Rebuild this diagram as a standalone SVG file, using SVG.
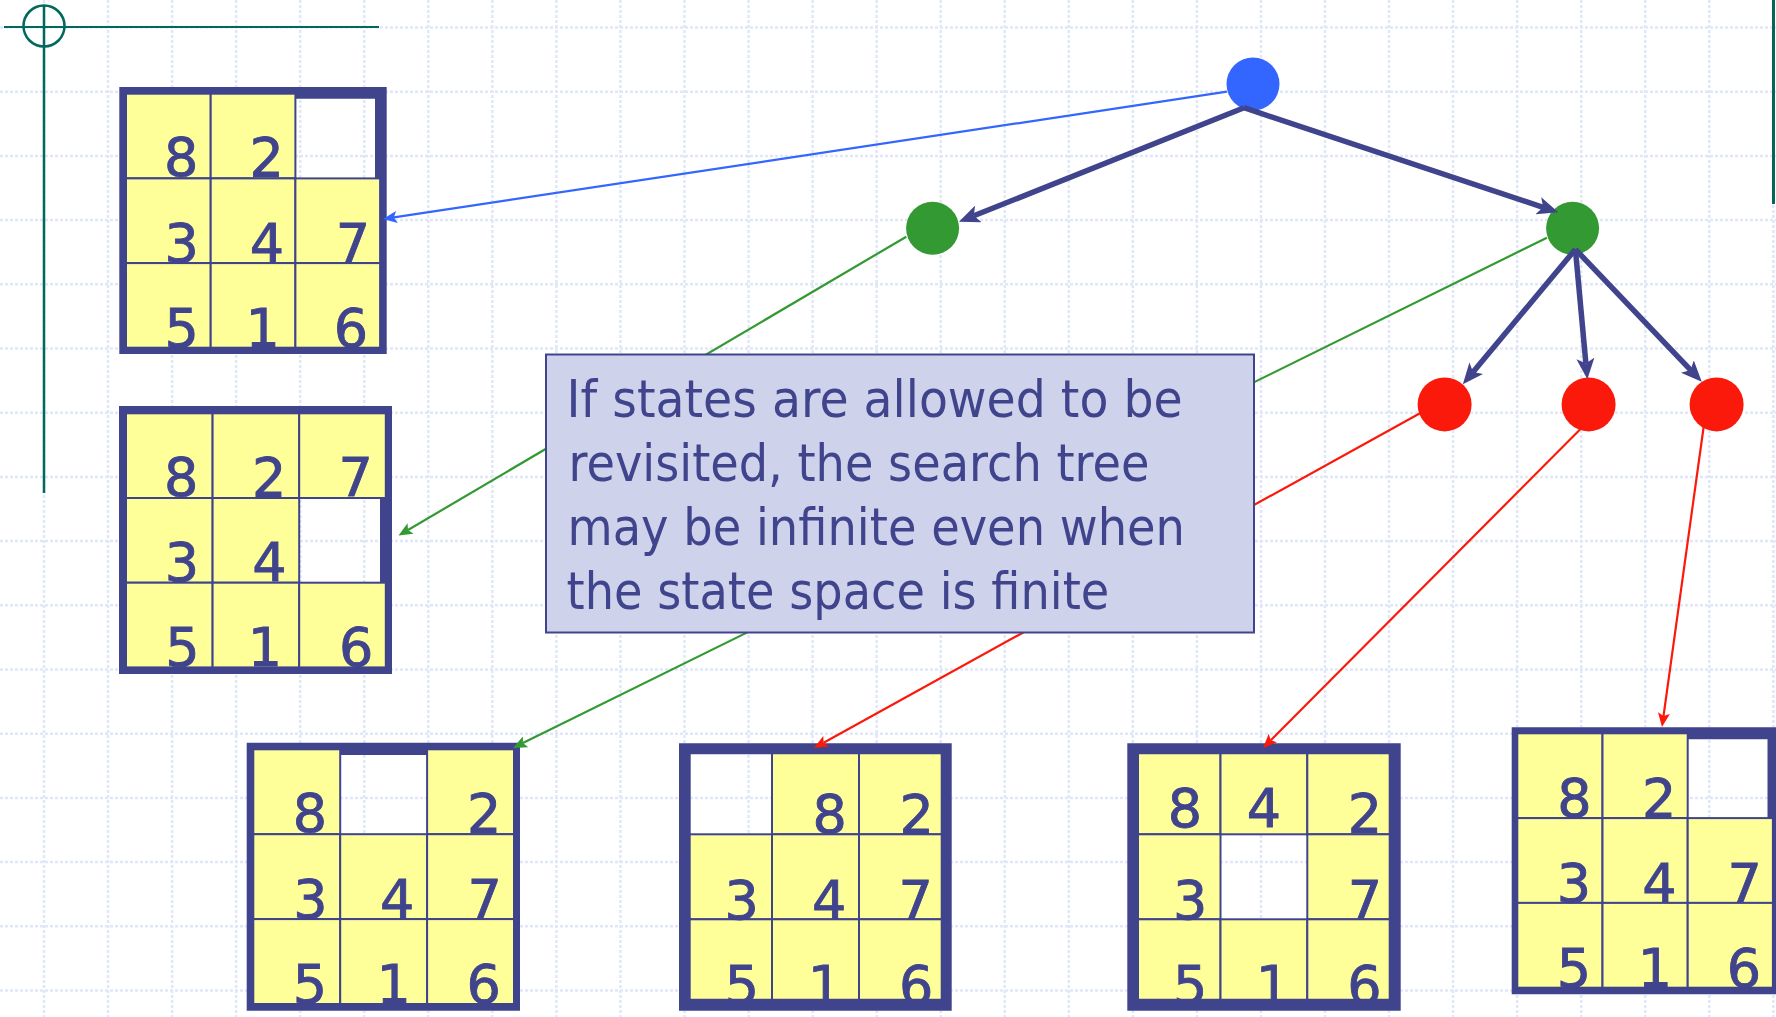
<svg xmlns="http://www.w3.org/2000/svg" width="1776" height="1017" viewBox="0 0 1776 1017">
<style>
.grid{fill:none;stroke:#e0e7f9;stroke-width:2.5;stroke-dasharray:3 2}
.deco{fill:none;stroke:#00695c}
.frame{fill:#40448c;fill-rule:evenodd}
.tile{fill:#ffff99;stroke:#40448c;stroke-width:2}
.dg{font-family:"DejaVu Sans",sans-serif;font-size:54px;fill:#40448c;stroke:#40448c;stroke-width:0.9;text-anchor:middle}
.thick{fill:none;stroke:#40448c;stroke-width:5.5}
.thin{fill:none;stroke-width:2.2}
.box{fill:#cfd2eb;stroke:#40448c;stroke-width:2}
.bt{font-family:"DejaVu Sans",sans-serif;font-size:51px;fill:#40448c}
</style>
<defs>
<marker id="hN" markerUnits="userSpaceOnUse" markerWidth="22" markerHeight="18" viewBox="0 0 22 18" refX="5" refY="9" orient="auto"><path d="M0,0 L21,9 L0,18 L5,9 Z" fill="#40448c"/></marker>
<marker id="hB" markerUnits="userSpaceOnUse" markerWidth="15" markerHeight="12" viewBox="0 0 15 12" refX="3" refY="6" orient="auto"><path d="M0,0 L14,6 L0,12 L3,6 Z" fill="#3366ff"/></marker>
<marker id="hG" markerUnits="userSpaceOnUse" markerWidth="15" markerHeight="12" viewBox="0 0 15 12" refX="3" refY="6" orient="auto"><path d="M0,0 L14,6 L0,12 L3,6 Z" fill="#339933"/></marker>
<marker id="hR" markerUnits="userSpaceOnUse" markerWidth="15" markerHeight="12" viewBox="0 0 15 12" refX="3" refY="6" orient="auto"><path d="M0,0 L14,6 L0,12 L3,6 Z" fill="#fa190a"/></marker>
</defs>
<rect width="1776" height="1017" fill="#ffffff"/>
<g id="grid">
<path class="grid" d="M44,0V1017M108.05,0V1017M172.1,0V1017M236.15,0V1017M300.2,0V1017M364.25,0V1017M428.3,0V1017M492.35,0V1017M556.4,0V1017M620.45,0V1017M684.5,0V1017M748.55,0V1017M812.6,0V1017M876.65,0V1017M940.7,0V1017M1004.75,0V1017M1068.8,0V1017M1132.85,0V1017M1196.9,0V1017M1260.95,0V1017M1325,0V1017M1389.05,0V1017M1453.1,0V1017M1517.15,0V1017M1581.2,0V1017M1645.25,0V1017M1709.3,0V1017M1773.35,0V1017"/>
<path class="grid" d="M0,27.5H1776M0,91.7H1776M0,155.9H1776M0,220.1H1776M0,284.3H1776M0,348.5H1776M0,412.7H1776M0,476.9H1776M0,541.1H1776M0,605.3H1776M0,669.5H1776M0,733.7H1776M0,797.9H1776M0,862.1H1776M0,926.3H1776M0,990.5H1776"/>
</g>
<g id="decoration">
<line class="deco" x1="4" y1="27" x2="379" y2="27" stroke-width="2"/>
<line class="deco" x1="44" y1="6" x2="44" y2="493" stroke-width="2.5"/>
<circle class="deco" cx="44" cy="26" r="20.5" stroke-width="2.5"/>
<line class="deco" x1="1773.5" y1="0" x2="1773.5" y2="204" stroke-width="3"/>
</g>

<g id="puzzle1">
<path class="frame" d="M119.3,87H386.7V354H119.3Z M126,98.7V347.7H375V98.7Z"/>
<rect class="tile" x="126" y="93.7" width="84.7" height="84.6"/>
<rect class="tile" x="210.7" y="93.7" width="84.7" height="84.6"/>
<rect class="tile" x="126" y="178.4" width="84.7" height="84.6"/>
<rect class="tile" x="210.7" y="178.4" width="84.7" height="84.6"/>
<rect class="tile" x="295.4" y="178.4" width="84.7" height="84.6"/>
<rect class="tile" x="126" y="263.1" width="84.7" height="84.6"/>
<rect class="tile" x="210.7" y="263.1" width="84.7" height="84.6"/>
<rect class="tile" x="295.4" y="263.1" width="84.7" height="84.6"/>
<text class="dg" x="181.3" y="176">8</text><text class="dg" x="266.8" y="176">2</text>
<text class="dg" x="181.7" y="262">3</text><text class="dg" x="267" y="262">4</text><text class="dg" x="353" y="262">7</text>
<text class="dg" x="181.7" y="347">5</text><text class="dg" x="262.8" y="347">1</text><text class="dg" x="351" y="347">6</text>
</g>

<g id="puzzle2">
<path class="frame" d="M119,406H392V674H119Z M126,418V667.4H380V418Z"/>
<rect class="tile" x="126" y="413.3" width="86.6" height="84.7"/>
<rect class="tile" x="212.6" y="413.3" width="86.6" height="84.7"/>
<rect class="tile" x="299.2" y="413.3" width="86.6" height="84.7"/>
<rect class="tile" x="126" y="498" width="86.6" height="84.7"/>
<rect class="tile" x="212.6" y="498" width="86.6" height="84.7"/>
<rect class="tile" x="126" y="582.7" width="86.6" height="84.7"/>
<rect class="tile" x="212.6" y="582.7" width="86.6" height="84.7"/>
<rect class="tile" x="299.2" y="582.7" width="86.6" height="84.7"/>
<text class="dg" x="181.3" y="496">8</text><text class="dg" x="269.2" y="496">2</text><text class="dg" x="355.7" y="496">7</text>
<text class="dg" x="182" y="581">3</text><text class="dg" x="269.5" y="581">4</text>
<text class="dg" x="182.5" y="666">5</text><text class="dg" x="265" y="666">1</text><text class="dg" x="356.3" y="666">6</text>
</g>

<g id="puzzle3">
<path class="frame" d="M246.7,742.7H520V1010.7H246.7Z M253.3,755V1004H508.5V755Z"/>
<rect class="tile" x="253.3" y="749.3" width="86.9" height="84.9"/>
<rect class="tile" x="427.1" y="749.3" width="86.9" height="84.9"/>
<rect class="tile" x="253.3" y="834.2" width="86.9" height="84.9"/>
<rect class="tile" x="340.2" y="834.2" width="86.9" height="84.9"/>
<rect class="tile" x="427.1" y="834.2" width="86.9" height="84.9"/>
<rect class="tile" x="253.3" y="919.1" width="86.9" height="84.9"/>
<rect class="tile" x="340.2" y="919.1" width="86.9" height="84.9"/>
<rect class="tile" x="427.1" y="919.1" width="86.9" height="84.9"/>
<text class="dg" x="310" y="832">8</text><text class="dg" x="484.2" y="832">2</text>
<text class="dg" x="310.5" y="918">3</text><text class="dg" x="397.2" y="918">4</text><text class="dg" x="484.7" y="918">7</text>
<text class="dg" x="310" y="1003">5</text><text class="dg" x="393.8" y="1003">1</text><text class="dg" x="483.7" y="1003">6</text>
</g>

<g id="puzzle4">
<rect class="tile" x="772" y="749.3" width="87" height="85"/>
<rect class="tile" x="859" y="749.3" width="87" height="85"/>
<rect class="tile" x="685" y="834.3" width="87" height="85"/>
<rect class="tile" x="772" y="834.3" width="87" height="85"/>
<rect class="tile" x="859" y="834.3" width="87" height="85"/>
<rect class="tile" x="685" y="919.3" width="87" height="85"/>
<rect class="tile" x="772" y="919.3" width="87" height="85"/>
<rect class="tile" x="859" y="919.3" width="87" height="85"/>
<text class="dg" x="829.7" y="833">8</text><text class="dg" x="916.7" y="833">2</text>
<text class="dg" x="741.7" y="919">3</text><text class="dg" x="829.2" y="919">4</text><text class="dg" x="915.8" y="919">7</text>
<text class="dg" x="742" y="1004">5</text><text class="dg" x="825" y="1004">1</text><text class="dg" x="916.3" y="1004">6</text>
<path class="frame" d="M679,743.3H951.7V1010.7H679Z M690.7,754.3V998.7H940.7V754.3Z"/>
</g>

<g id="puzzle5">
<rect class="tile" x="1133.7" y="749.3" width="86.8" height="85"/>
<rect class="tile" x="1220.5" y="749.3" width="86.8" height="85"/>
<rect class="tile" x="1307.3" y="749.3" width="86.8" height="85"/>
<rect class="tile" x="1133.7" y="834.3" width="86.8" height="85"/>
<rect class="tile" x="1307.3" y="834.3" width="86.8" height="85"/>
<rect class="tile" x="1133.7" y="919.3" width="86.8" height="85"/>
<rect class="tile" x="1220.5" y="919.3" width="86.8" height="85"/>
<rect class="tile" x="1307.3" y="919.3" width="86.8" height="85"/>
<text class="dg" x="1185" y="827">8</text><text class="dg" x="1264" y="827">4</text><text class="dg" x="1365" y="832">2</text>
<text class="dg" x="1190.3" y="919">3</text><text class="dg" x="1365" y="919">7</text>
<text class="dg" x="1190.3" y="1004">5</text><text class="dg" x="1273" y="1004">1</text><text class="dg" x="1364.5" y="1004">6</text>
<path class="frame" d="M1127.3,743.3H1400.7V1010.7H1127.3Z M1139,754.3V998.7H1388.7V754.3Z"/>
</g>

<g id="puzzle6">
<path class="frame" d="M1511.7,727.3H1780V994.3H1511.7Z M1517.3,739.3V987.7H1767.5V739.3Z"/>
<rect class="tile" x="1517.3" y="733.3" width="85.2" height="84.8"/>
<rect class="tile" x="1602.5" y="733.3" width="85.2" height="84.8"/>
<rect class="tile" x="1517.3" y="818.1" width="85.2" height="84.8"/>
<rect class="tile" x="1602.5" y="818.1" width="85.2" height="84.8"/>
<rect class="tile" x="1687.7" y="818.1" width="85.2" height="84.8"/>
<rect class="tile" x="1517.3" y="902.9" width="85.2" height="84.8"/>
<rect class="tile" x="1602.5" y="902.9" width="85.2" height="84.8"/>
<rect class="tile" x="1687.7" y="902.9" width="85.2" height="84.8"/>
<text class="dg" x="1574.5" y="816.5">8</text><text class="dg" x="1659.2" y="816.5">2</text>
<text class="dg" x="1574" y="902">3</text><text class="dg" x="1659.5" y="902">4</text><text class="dg" x="1744.7" y="902">7</text>
<text class="dg" x="1574" y="986.5">5</text><text class="dg" x="1655" y="986.5">1</text><text class="dg" x="1744" y="986.5">6</text>
</g>

<g id="root"><circle cx="1253" cy="84" r="26.5" fill="#3366ff"/></g>
<g id="greenLeft"><circle cx="932.6" cy="228.3" r="26.5" fill="#339933"/></g>
<g id="greenRight"><circle cx="1572.6" cy="228.3" r="26.5" fill="#339933"/></g>
<g id="red1"><circle cx="1444.6" cy="404.4" r="27" fill="#fa190a"/></g>
<g id="red2"><circle cx="1588.6" cy="404.4" r="27" fill="#fa190a"/></g>
<g id="red3"><circle cx="1716.6" cy="404.4" r="27" fill="#fa190a"/></g>

<g id="connectors">
<line class="thick" x1="1244" y1="107.7" x2="973.8" y2="215.8" marker-end="url(#hN)"/>
<line class="thick" x1="1244" y1="107.7" x2="1543.1" y2="207.3" marker-end="url(#hN)"/>
<line class="thick" x1="1575.4" y1="249.3" x2="1473.1" y2="372" marker-end="url(#hN)"/>
<line class="thick" x1="1575.4" y1="249.3" x2="1585.9" y2="363.4" marker-end="url(#hN)"/>
<line class="thick" x1="1575.4" y1="249.3" x2="1690.7" y2="370.1" marker-end="url(#hN)"/>
<line class="thin" stroke="#3366ff" x1="1226.9" y1="91.7" x2="393.9" y2="217.4" marker-end="url(#hB)"/>
<line class="thin" stroke="#339933" x1="906.3" y1="236.7" x2="408" y2="530" marker-end="url(#hG)"/>
<line class="thin" stroke="#339933" x1="1546.9" y1="237.7" x2="522.9" y2="743.1" marker-end="url(#hG)"/>
<line class="thin" stroke="#fa190a" x1="1420" y1="413.3" x2="823.6" y2="742.7" marker-end="url(#hR)"/>
<line class="thin" stroke="#fa190a" x1="1581" y1="428.5" x2="1270.8" y2="740.2" marker-end="url(#hR)"/>
<line class="thin" stroke="#fa190a" x1="1704.6" y1="420" x2="1663.5" y2="716.1" marker-end="url(#hR)"/>
</g>

<g id="note">
<rect class="box" x="546" y="354.5" width="708" height="278"/>
<text class="bt" x="566.6" y="416.7" textLength="616" lengthAdjust="spacingAndGlyphs">If states are allowed to be</text>
<text class="bt" x="568.5" y="481" textLength="581" lengthAdjust="spacingAndGlyphs">revisited, the search tree</text>
<text class="bt" x="567.5" y="545" textLength="617.5" lengthAdjust="spacingAndGlyphs">may be infinite even when</text>
<text class="bt" x="566.6" y="609" textLength="542.7" lengthAdjust="spacingAndGlyphs">the state space is finite</text>
</g>
</svg>
